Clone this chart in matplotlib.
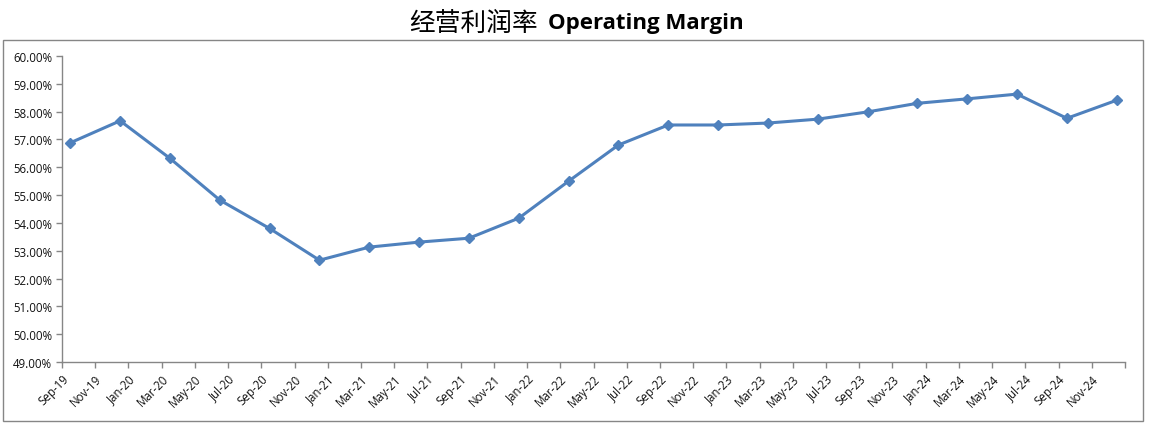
import matplotlib.pyplot as plt
import matplotlib.patches as patches
import pandas as pd

# quarterly operating margin, Sep-19 .. Dec-24 (%)
quarters = pd.date_range('2019-09-01', periods=22, freq='3MS')
margin = [56.88, 57.67, 56.32, 54.82, 53.80, 52.66, 53.13, 53.31, 53.45, 54.17, 55.50,
          56.80, 57.52, 57.52, 57.59, 57.73, 57.99, 58.30, 58.46, 58.63, 57.76, 58.41]

tick_dates = pd.date_range('2019-09-01', '2025-01-01', freq='2MS')
tick_labels = [d.strftime('%b-%y') for d in tick_dates[:-1]] + ['']

start = pd.Timestamp('2019-09-01')


def month_pos(d):
    return (d.year - start.year) * 12 + d.month - start.month


x = [month_pos(d) + 0.5 for d in quarters]   # centred in the month slot
ticks = [month_pos(d) for d in tick_dates]

fig = plt.figure(figsize=(11.57, 4.31), dpi=100)
ax = fig.add_axes([62 / 1157, 1 - 363 / 431, (1125 - 62) / 1157, (363 - 57) / 431])

ax.plot(x, margin, color='#4F81BD', lw=2.2, marker='D', markersize=5.5,
        markerfacecolor='#4F81BD', markeredgecolor='#4F81BD')

ax.set_xlim(ticks[0], ticks[-1])
ax.set_ylim(49, 60)
ax.set_yticks(range(49, 61))
ax.set_yticklabels(['%.2f%%' % v for v in range(49, 61)])
ax.set_xticks(ticks)
ax.set_xticklabels(tick_labels, rotation=45, ha='right', rotation_mode='anchor')

for s in ['top', 'right']:
    ax.spines[s].set_visible(False)
for s in ['left', 'bottom']:
    ax.spines[s].set_color('#868686')
    ax.spines[s].set_linewidth(1)
ax.tick_params(direction='out', length=4, width=1, color='#868686',
               labelsize=8.3, labelcolor='#111111', pad=3)
for lab in ax.get_xticklabels() + ax.get_yticklabels():
    lab.set_family('Open Sans')

# chart border
fig.patches.append(patches.Rectangle((3 / 1157, 9 / 431), 1140 / 1157, 381 / 431,
                                     transform=fig.transFigure, fill=False,
                                     edgecolor='#868686', lw=1))

fig.text(538 / 1157, 1 - 24 / 431, '经营利润率', ha='right', va='center',
         fontsize=18.5, family=['Noto Sans CJK SC', 'DejaVu Sans'])
fig.text(548 / 1157, 1 - 24 / 431, 'Operating Margin', ha='left', va='center',
         fontsize=16, fontweight='bold', family='Open Sans')

fig.savefig('out.png', dpi=100)
